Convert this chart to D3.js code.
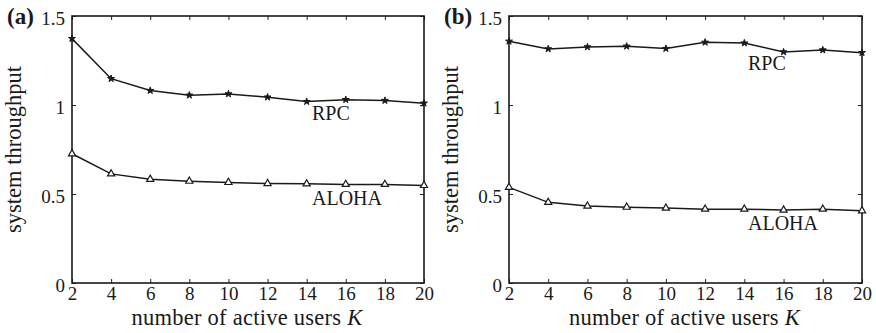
<!DOCTYPE html>
<html>
<head>
<meta charset="utf-8">
<script src="https://cdn.jsdelivr.net/npm/d3@7/dist/d3.min.js"></script>
<style>
  body { margin: 0; background: #fff; }
  svg text { font-family: "Liberation Serif", "Times New Roman", serif; fill: #1a1a1a; }
</style>
</head>
<body>
<div id="chart"></div>
<script>
// number of active users
var users = [2, 4, 6, 8, 10, 12, 14, 16, 18, 20];
var yTicks = [0, 0.5, 1, 1.5];

// panel (a)
var rpcA = [1.373, 1.148, 1.081, 1.055, 1.062, 1.044, 1.019, 1.030, 1.025, 1.010];
var alohaA = [0.726, 0.613, 0.583, 0.572, 0.565, 0.559, 0.557, 0.554, 0.554, 0.548];

// panel (b)
var rpcB = [1.358, 1.315, 1.326, 1.330, 1.317, 1.352, 1.348, 1.298, 1.309, 1.294];
var alohaB = [0.537, 0.453, 0.432, 0.426, 0.421, 0.415, 0.415, 0.410, 0.415, 0.406];

var W = 876, H = 333;
var svg = d3.select("#chart").append("svg").attr("width", W).attr("height", H);

function drawPanel(cfg) {
    var left = cfg.left, right = cfg.right, top = 16, bottom = 283;
    var x = d3.scaleLinear().domain([2, 20]).range([left, right]);
    var y = d3.scaleLinear().domain([0, 1.5]).range([bottom, top]);
    var g = svg.append("g");

    // inward ticks on all four sides
    g.append("g").attr("transform", "translate(0," + bottom + ")")
        .call(d3.axisBottom(x).tickValues(users).tickSizeInner(-4).tickSizeOuter(0).tickPadding(4).tickFormat(d3.format("d")))
        .call(function (a) { a.select(".domain").remove(); });
    g.append("g").attr("transform", "translate(0," + top + ")")
        .call(d3.axisTop(x).tickValues(users).tickSizeInner(-4).tickSizeOuter(0).tickFormat(""))
        .call(function (a) { a.select(".domain").remove(); });
    var ly = g.append("g").attr("transform", "translate(" + left + ",0)")
        .call(d3.axisLeft(y).tickValues(yTicks).tickSizeInner(-4).tickSizeOuter(0).tickPadding(7).tickFormat(d3.format("")))
        .call(function (a) { a.select(".domain").remove(); });
    ly.selectAll(".tick text").attr("dy", "0.45em");
    g.append("g").attr("transform", "translate(" + right + ",0)")
        .call(d3.axisRight(y).tickValues(yTicks).tickSizeInner(-4).tickSizeOuter(0).tickFormat(""))
        .call(function (a) { a.select(".domain").remove(); });

    g.selectAll(".tick line").attr("stroke", "#222").attr("stroke-width", 1);
    g.selectAll(".tick text").attr("font-size", 19).attr("fill", "#1a1a1a")
        .style("font-family", "'Liberation Serif', serif");

    // frame
    g.append("rect").attr("x", left).attr("y", top)
        .attr("width", right - left).attr("height", bottom - top)
        .attr("fill", "none").attr("stroke", "#1a1a1a").attr("stroke-width", 1.6);

    var line = d3.line().x(function (d, i) { return x(users[i]); }).y(function (d) { return y(d); });

    [cfg.rpc, cfg.aloha].forEach(function (vals, k) {
        g.append("path").datum(vals).attr("d", line)
            .attr("fill", "none").attr("stroke", "#1a1a1a").attr("stroke-width", 1.5);
        var sym = k === 0 ? d3.symbol().type(d3.symbolStar).size(15) : d3.symbol().type(d3.symbolTriangle).size(22);
        g.selectAll(null).data(vals).enter().append("path")
            .attr("d", sym)
            .attr("transform", function (d, i) { return "translate(" + x(users[i]) + "," + y(d) + ")"; })
            .attr("fill", k === 0 ? "#1a1a1a" : "#fff")
            .attr("stroke", "#1a1a1a").attr("stroke-width", k === 0 ? 1 : 1.2);
    });

    // curve labels
    g.append("text").attr("x", cfg.rpcLabel[0]).attr("y", cfg.rpcLabel[1])
        .attr("font-size", 20).text("RPC");
    g.append("text").attr("x", cfg.alohaLabel[0]).attr("y", cfg.alohaLabel[1])
        .attr("font-size", 20).text("ALOHA");

    // axis titles
    var xl = g.append("text").attr("x", (left + right) / 2 - 1).attr("y", 325)
        .attr("text-anchor", "middle").attr("font-size", 22.5).attr("letter-spacing", 0.25);
    xl.append("tspan").text("number of active users ");
    xl.append("tspan").attr("font-style", "italic").text("K");

    g.append("text").attr("transform", "translate(" + (left - 51) + "," + ((top + bottom) / 2) + ") rotate(-90)")
        .attr("text-anchor", "middle").attr("font-size", 22.5).text("system throughput");

    // panel tag
    g.append("text").attr("x", left - 65).attr("y", 24)
        .attr("font-size", 23).attr("font-weight", "bold").text(cfg.tag);
}

drawPanel({ left: 72, right: 424, rpc: rpcA, aloha: alohaA, tag: "(a)",
    rpcLabel: [312, 120], alohaLabel: [312, 205] });
drawPanel({ left: 509, right: 862, rpc: rpcB, aloha: alohaB, tag: "(b)",
    rpcLabel: [748, 70], alohaLabel: [748, 230] });
</script>
</body>
</html>
